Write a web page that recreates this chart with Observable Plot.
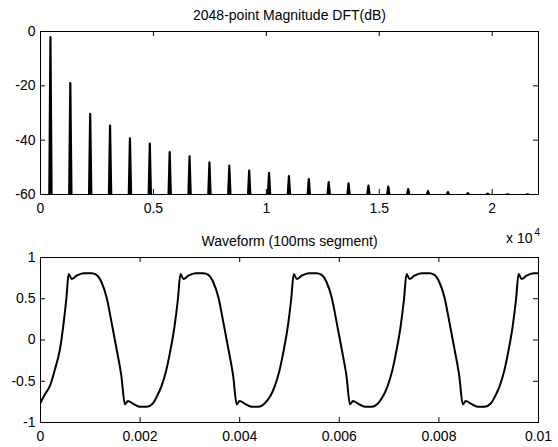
<!DOCTYPE html>
<html><head><meta charset="utf-8">
<script src="https://cdn.jsdelivr.net/npm/d3@7"></script>
<script src="https://cdn.jsdelivr.net/npm/@observablehq/plot@0.6"></script>
<style>
body{margin:0;background:#fff;}
#chart{width:558px;height:447px;}
svg{display:block;}
</style>
</head><body><div id="chart"></div>
<script>
// ---- data ----
const topTitle = "2048-point Magnitude DFT(dB)";
const bottomTitle = "Waveform (100ms segment)";
const harmonicHz = [440, 1320, 2200, 3080, 3960, 4840, 5720, 6600, 7480, 8360, 9240, 10120, 11000,
  11880, 12760, 13640, 14520, 15400, 16280, 17160, 18040, 18920, 19800, 20680, 21560];
const harmonicDb = [-2.1, -19.0, -30.3, -34.6, -39.3, -41.3, -44.4, -46.0, -48.2, -49.4, -51.2, -52.0, -53.2,
  -54.3, -55.4, -55.9, -56.7, -57.1, -58.0, -58.7, -59.1, -59.5, -59.7, -59.9, -59.95];
const specXTicks = [0, 5000, 10000, 15000, 20000];
const specXLabels = ["0", "0.5", "1", "1.5", "2"];
const specYTicks = [0, -20, -40, -60];
const specYLabels = ["0", "-20", "-40", "-60"];
const specXMax = 22050;
const specFloor = -60;

const waveT = [0, 0.000087, 0.000187, 0.000288, 0.000388, 0.000455, 0.000522, 0.000565,
  0.000625, 0.000725, 0.000865, 0.001025, 0.001125, 0.001225, 0.001325, 0.001425, 0.001525, 0.001625, 0.001695, 0.001755, 0.001855, 0.001995, 0.002135, 0.002255,
  0.00234, 0.00243, 0.00252, 0.00261, 0.00269, 0.00276, 0.00281,
  0.00287, 0.00297, 0.00311, 0.00327, 0.00337, 0.00347, 0.00357, 0.00367, 0.00377, 0.00387, 0.00394, 0.00400, 0.00410, 0.00424, 0.00438, 0.00450,
  0.004615, 0.004705, 0.004795, 0.004885, 0.004965, 0.005035, 0.005085,
  0.005145, 0.005245, 0.005385, 0.005545, 0.005645, 0.005745, 0.005845, 0.005945, 0.006045, 0.006145, 0.006215, 0.006275, 0.006375, 0.006515, 0.006655, 0.006775,
  0.00688, 0.00697, 0.00706, 0.00715, 0.00723, 0.00730, 0.00735,
  0.00741, 0.00751, 0.00765, 0.00781, 0.00791, 0.00801, 0.00811, 0.00821, 0.00831, 0.00841, 0.00848, 0.00854, 0.00864, 0.00878, 0.00892, 0.00904,
  0.00913, 0.00922, 0.00931, 0.00940, 0.00948, 0.00955, 0.0096,
  0.00966, 0.00976, 0.00990, 0.01];
const waveV = [-0.76, -0.66, -0.56, -0.36, -0.12, 0.16, 0.52, 0.80,
  0.74, 0.78, 0.81, 0.81, 0.79, 0.70, 0.52, 0.22, -0.10, -0.44, -0.78, -0.74, -0.77, -0.81, -0.81, -0.77,
  -0.68, -0.56, -0.38, -0.12, 0.16, 0.50, 0.80,
  0.74, 0.78, 0.81, 0.81, 0.79, 0.70, 0.52, 0.22, -0.10, -0.44, -0.78, -0.74, -0.77, -0.81, -0.81, -0.77,
  -0.68, -0.56, -0.38, -0.12, 0.16, 0.50, 0.80,
  0.74, 0.78, 0.81, 0.81, 0.79, 0.70, 0.52, 0.22, -0.10, -0.44, -0.78, -0.74, -0.77, -0.81, -0.81, -0.77,
  -0.68, -0.56, -0.38, -0.12, 0.16, 0.50, 0.80,
  0.74, 0.78, 0.81, 0.81, 0.79, 0.70, 0.52, 0.22, -0.10, -0.44, -0.78, -0.74, -0.77, -0.81, -0.81, -0.77,
  -0.68, -0.56, -0.38, -0.12, 0.16, 0.50, 0.80,
  0.74, 0.78, 0.81, 0.81];
const waveXTicks = [0, 0.002, 0.004, 0.006, 0.008, 0.01];
const waveXLabels = ["0", "0.002", "0.004", "0.006", "0.008", "0.01"];
const waveYTicks = [1, 0.5, 0, -0.5, -1];
const waveYLabels = ["1", "0.5", "0", "-0.5", "-1"];
const expLabel = "x 10";
const expSup = "4";

// ---- layout / style ----
const W = 558, ML = 40, MR = 20;
const font = "Liberation Sans, Arial, Helvetica, sans-serif";
const TICK = 5;
const spikeHalf = 50; // Hz half-width of drawn spike
const plotStyle = {fontFamily: font, fontSize: "14px", color: "black", background: "white", overflow: "visible"};

function boxTicks(xt, yt, innerW, innerH) {
  return [
    Plot.tickX(xt, {x: d => d, insetTop: innerH - TICK, stroke: "black"}),
    Plot.tickX(xt, {x: d => d, insetBottom: innerH - TICK, stroke: "black"}),
    Plot.tickY(yt, {y: d => d, insetRight: innerW - TICK, stroke: "black"}),
    Plot.tickY(yt, {y: d => d, insetLeft: innerW - TICK, stroke: "black"})
  ];
}

// spectrum plot
const H1 = 226, MT1 = 31, MB1 = 32;
const spikes = harmonicHz.flatMap((f, i) => [
  {f: f - spikeHalf, db: specFloor, i},
  {f: f, db: harmonicDb[i], i},
  {f: f + spikeHalf, db: specFloor, i}
]);
const specChart = Plot.plot({
  width: W, height: H1, marginLeft: ML, marginRight: MR, marginTop: MT1, marginBottom: MB1,
  style: plotStyle,
  x: {domain: [0, specXMax], label: null},
  y: {domain: [specFloor, 0], label: null},
  marks: [
    Plot.line(spikes, {x: "f", y: "db", z: "i", stroke: "black", strokeWidth: 2.2, clip: true}),
    ...boxTicks(specXTicks, specYTicks, W - ML - MR, H1 - MT1 - MB1),
    Plot.frame({stroke: "black"}),
    Plot.axisX(specXTicks, {tickSize: 0, tickPadding: 9, label: null, tickFormat: d => specXLabels[specXTicks.indexOf(d)]}),
    Plot.axisY(specYTicks, {tickSize: 0, tickPadding: 5, label: null, tickFormat: d => specYLabels[specYTicks.indexOf(d)]}),
    Plot.text([topTitle], {frameAnchor: "top", dy: -12, lineAnchor: "bottom", fontSize: 14})
  ]
});

// waveform plot
const H2 = 221, MT2 = 31, MB2 = 25;
const wave = waveT.map((t, i) => ({t, v: waveV[i]}));
const waveChart = Plot.plot({
  width: W, height: H2, marginLeft: ML, marginRight: MR, marginTop: MT2, marginBottom: MB2,
  style: plotStyle,
  x: {domain: [0, 0.01], label: null},
  y: {domain: [-1, 1], label: null},
  marks: [
    Plot.line(wave, {x: "t", y: "v", stroke: "black", strokeWidth: 2, curve: "monotone-x", clip: true}),
    ...boxTicks(waveXTicks, waveYTicks, W - ML - MR, H2 - MT2 - MB2),
    Plot.frame({stroke: "black"}),
    Plot.axisX(waveXTicks, {tickSize: 0, tickPadding: 9, label: null, tickFormat: d => waveXLabels[waveXTicks.indexOf(d)]}),
    Plot.axisY(waveYTicks, {tickSize: 0, tickPadding: 5, label: null, tickFormat: d => waveYLabels[waveYTicks.indexOf(d)]}),
    Plot.text([bottomTitle], {frameAnchor: "top", dy: -12, lineAnchor: "bottom", fontSize: 14}),
    Plot.text([expLabel], {frameAnchor: "top-right", textAnchor: "end", dx: -6, dy: -15, lineAnchor: "bottom", fontSize: 14}),
    Plot.text([expSup], {frameAnchor: "top-right", textAnchor: "start", dx: -4, dy: -22, lineAnchor: "bottom", fontSize: 10})
  ]
});

const c = document.getElementById("chart");
c.appendChild(specChart);
c.appendChild(waveChart);
</script>
</body></html>
